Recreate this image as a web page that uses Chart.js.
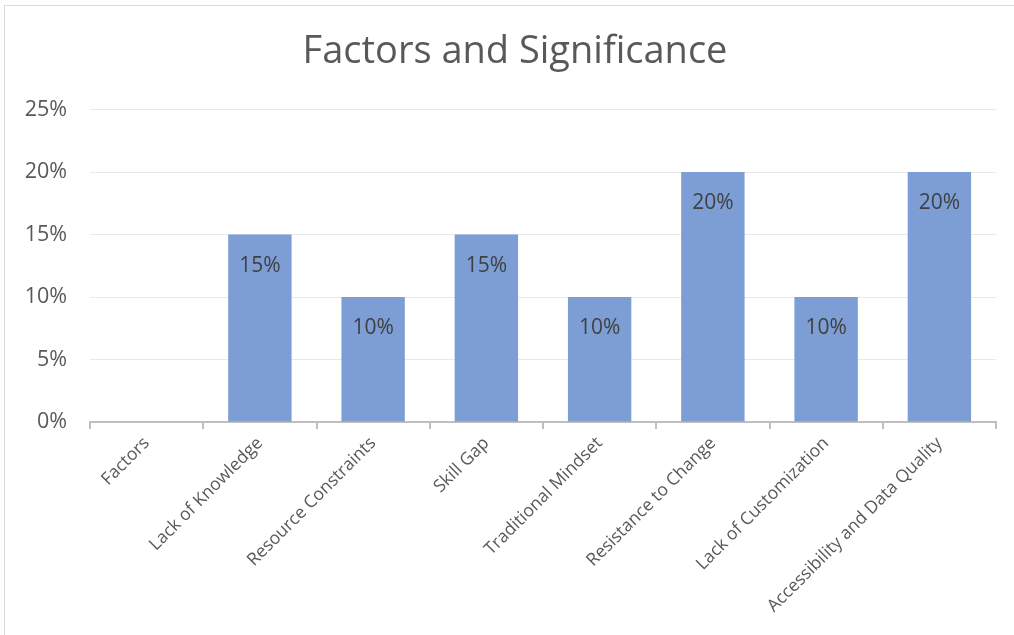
<!DOCTYPE html>
<html>
<head>
<meta charset="utf-8">
<script src="https://cdn.jsdelivr.net/npm/chart.js@4"></script>
<style>
  html, body { margin: 0; padding: 0; background: #fff; }
  #wrap { position: relative; width: 1014px; height: 635px; }
  #marco { position: absolute; left: 4px; top: 5px; width: 1020px; height: 640px; border: 1px solid #d9d9d9; pointer-events: none; }
</style>
</head>
<body>
<div id="wrap">
  <canvas id="factores_grafica"></canvas>
  <div id="marco"></div>
</div>
<script>
// datos
const categorias = ['Factors', 'Lack of Knowledge', 'Resource Constraints', 'Skill Gap', 'Traditional Mindset', 'Resistance to Change', 'Lack of Customization', 'Accessibility and Data Quality'];
const significancia = [null, 0.15, 0.10, 0.15, 0.10, 0.20, 0.10, 0.20];
const ticks_y = [0, 0.05, 0.10, 0.15, 0.20, 0.25];

const fuente = "'Open Sans', 'Noto Sans', sans-serif";

// etiquetas dentro de la barra, cerca del extremo
const etiquetasBarras = {
  id: 'etiquetasBarras',
  afterDatasetsDraw(chart) {
    const ctx = chart.ctx;
    const meta = chart.getDatasetMeta(0);
    ctx.save();
    ctx.font = '21px ' + fuente;
    ctx.fillStyle = '#404040';
    ctx.textAlign = 'center';
    ctx.textBaseline = 'middle';
    meta.data.forEach((bar, i) => {
      const v = significancia[i];
      if (v === null) return;
      ctx.fillText(Math.round(v * 100) + '%', bar.x, bar.y + 31);
    });
    ctx.restore();
  }
};

// el titulo va un poco a la derecha, como en el original
const moverTitulo = {
  id: 'moverTitulo',
  afterLayout(chart) {
    if (chart.titleBlock) chart.titleBlock.left += 34;
  }
};

const ctx1 = document.getElementById('factores_grafica').getContext('2d');

new Chart(ctx1, {
  type: 'bar',
  data: {
    labels: categorias,
    datasets: [
      {
        label: 'Significance',
        data: significancia,
        backgroundColor: 'rgb(124, 158, 213)',
        borderWidth: 0,
        categoryPercentage: 1,
        barPercentage: 0.56,
      }
    ]
  },
  options: {
    responsive: true,
    maintainAspectRatio: false,
    animation: false,
    layout: { padding: { left: 0, right: 18, top: 0, bottom: 0 } },
    plugins: {
      legend: { display: false },
      tooltip: { enabled: false },
      title: {
        display: true,
        text: 'Factors and Significance',
        color: '#595959',
        padding: { top: 29, bottom: 35 },
        font: { family: fuente, size: 38, weight: 'normal' }
      },
    },
    scales: {
      x: {
        afterFit: (s) => { s.height = 213; },
        grid: { offset: true, drawOnChartArea: false, drawTicks: true, tickLength: 7, color: '#bfbfbf', lineWidth: 2 },
        border: { display: true, color: '#bfbfbf', width: 2 },
        ticks: {
          color: '#595959',
          minRotation: 45,
          maxRotation: 45,
          padding: 4,
          font: { family: fuente, size: 17.5 }
        }
      },
      y: {
        min: 0,
        max: 0.25,
        afterFit: (s) => { s.width = 90; },
        afterBuildTicks: (s) => { s.ticks = ticks_y.map(v => ({ value: v })); },
        grid: { color: '#e9e9e9', drawTicks: false },
        border: { display: false },
        ticks: {
          color: '#595959',
          padding: 23,
          font: { family: fuente, size: 21.5 },
          callback: (v) => Math.round(v * 100) + '%'
        }
      }
    }
  },
  plugins: [etiquetasBarras, moverTitulo]
});
</script>
</body>
</html>
